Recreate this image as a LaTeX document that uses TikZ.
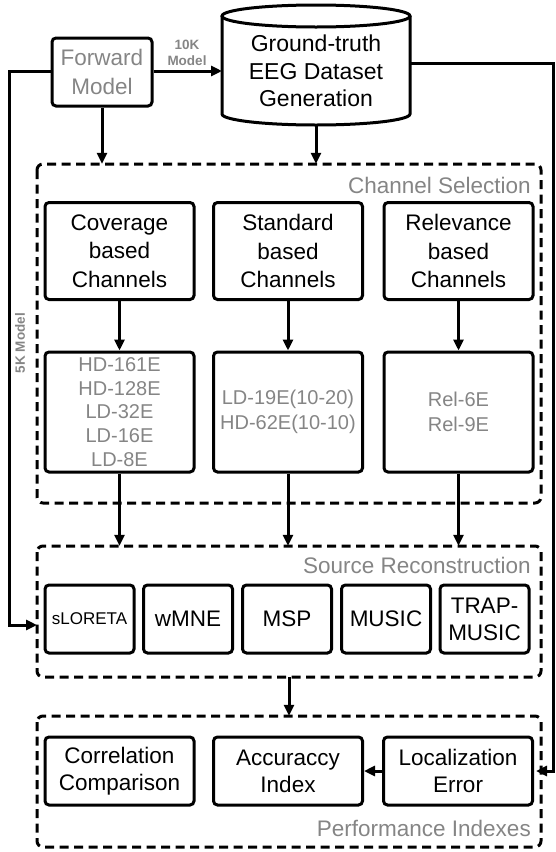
\documentclass[tikz,border=0pt]{standalone}
\usepackage{fontspec}
\setmainfont{Liberation Sans}
\usetikzlibrary{arrows.meta}
\definecolor{labelgray}{HTML}{858585}
\tikzset{
  box/.style={draw, line width=3pt, rounded corners=4pt, align=center,
    inner sep=0pt, font=\fontsize{22.5}{28.5}\selectfont},
  group/.style={draw, line width=3pt, rounded corners=6pt,
    dash pattern=on 9pt off 5.5pt},
  arr/.style={line width=3pt, -{Triangle[length=11pt,width=10pt]}},
  grouptitle/.style={text=labelgray, font=\fontsize{22.5}{26}\selectfont, anchor=east, inner sep=0pt},
  smalllabel/.style={text=labelgray, font=\fontsize{13.5}{15.5}\bfseries\selectfont, align=center, inner sep=0pt},
  graytext/.style={text=labelgray},
}
\begin{document}
\begin{tikzpicture}[x=1pt, y=-1pt]
\useasboundingbox (0,0) rectangle (555,852);

% forward model and dataset cylinder
\node[box, graytext, minimum width=100pt, minimum height=68pt] (fm) at (102,72) {Forward\\Model};
\draw[line width=3pt, fill=white] (222,16) -- (222,114)
  arc[start angle=180, end angle=360, x radius=94pt, y radius=11pt] -- (410,16);
\draw[line width=3pt] (316,16) ellipse [x radius=94pt, y radius=11pt];
\node[align=center, inner sep=0pt, minimum width=188pt, minimum height=120pt,
  font=\fontsize{23}{27.5}\selectfont] (gt) at (316,71) {Ground-truth\\EEG Dataset\\Generation};

% channel selection group
\draw[group] (37,164) rectangle (541,503);
\node[inner sep=0pt, minimum width=504pt, minimum height=339pt] (cs) at (289,333.5) {};
\node[grouptitle] (cstitle) at (531,185) {Channel Selection};

\node[box, minimum width=149pt, minimum height=97pt] (cov) at (119.5,251) {Coverage\\based\\Channels};
\node[box, minimum width=149pt, minimum height=97pt] (std) at (288,251) {Standard\\based\\Channels};
\node[box, minimum width=149pt, minimum height=97pt] (rel) at (458.5,251) {Relevance\\based\\Channels};

\node[box, graytext, minimum width=149pt, minimum height=120pt,
  font=\fontsize{20}{23.8}\selectfont] (covl) at (119.5,412) {HD-161E\\HD-128E\\LD-32E\\LD-16E\\LD-8E};
\node[box, graytext, minimum width=149pt, minimum height=120pt,
  font=\fontsize{20}{25.5}\selectfont] (stdl) at (288,412) {LD-19E(10-20)\\HD-62E(10-10)};
\node[box, graytext, minimum width=149pt, minimum height=120pt,
  font=\fontsize{20}{25.5}\selectfont] (rell) at (458.5,412) {Rel-6E\\Rel-9E};

% source reconstruction group
\draw[group] (37,546) rectangle (541,677);
\node[inner sep=0pt, minimum width=504pt, minimum height=131pt] (sr) at (289,611.5) {};
\node[grouptitle] (srtitle) at (531,565) {Source Reconstruction};

\node[box, minimum width=89pt, minimum height=68pt, font=\fontsize{17}{20}\selectfont] (slo) at (89.5,619) {sLORETA};
\node[box, minimum width=89pt, minimum height=68pt] (wmne) at (188,619) {wMNE};
\node[box, minimum width=89pt, minimum height=68pt] (msp) at (287,619) {MSP};
\node[box, minimum width=89pt, minimum height=68pt] (music) at (386,619) {MUSIC};
\node[box, minimum width=89pt, minimum height=68pt, font=\fontsize{22.5}{27}\selectfont] (trap) at (484.5,619) {TRAP-\\MUSIC};

% performance indexes group
\draw[group] (37,716) rectangle (541,847);
\node[inner sep=0pt, minimum width=504pt, minimum height=131pt] (pi) at (289,781.5) {};
\node[grouptitle] (pititle) at (531,828) {Performance Indexes};

\node[box, minimum width=149pt, minimum height=68pt, font=\fontsize{22.5}{27}\selectfont] (corr) at (119.5,771) {Correlation\\Comparison};
\node[box, minimum width=149pt, minimum height=68pt, font=\fontsize{22.5}{27}\selectfont] (acc) at (288,771) {Accuraccy\\Index};
\node[box, minimum width=149pt, minimum height=68pt, font=\fontsize{22.5}{27}\selectfont] (loc) at (458,771) {Localization\\Error};

% connectors
\coordinate (gtright) at (410,63);
\coordinate (gtbottom) at (316,125);
\coordinate (gtleft) at (222,71);
\coordinate (leftrail) at (9,0);
\coordinate (rightrail) at (553,0);
\coordinate (srin) at (37,625);

\draw[arr] (fm.east |- gtleft) -- (gtleft);
\node[smalllabel] (tenk) at (187,53) {10K\\Model};
\draw[arr] (fm.south) -- (fm.south |- cs.north);
\draw[arr] (gtbottom) -- (gtbottom |- cs.north);

\draw[arr] (cov) -- (covl);
\draw[arr] (std) -- (stdl);
\draw[arr] (rel) -- (rell);
\draw[arr] (covl.south) -- (covl.south |- sr.north);
\draw[arr] (stdl.south) -- (stdl.south |- sr.north);
\draw[arr] (rell.south) -- (rell.south |- sr.north);

\draw[arr] (sr.south) -- (pi.north);

\draw[arr, line join=miter] (fm.west |- gtleft) -- (leftrail |- gtleft) -- (leftrail |- srin) -- (srin);
\node[smalllabel, rotate=90] (fivek) at (20,343) {5K Model};

\draw[arr, line join=miter] (gtright) -- (rightrail |- gtright) -- (rightrail |- loc.east) -- ([xshift=2pt]loc.east);
\draw[arr] (loc.west) -- (acc.east);
\end{tikzpicture}
\end{document}
